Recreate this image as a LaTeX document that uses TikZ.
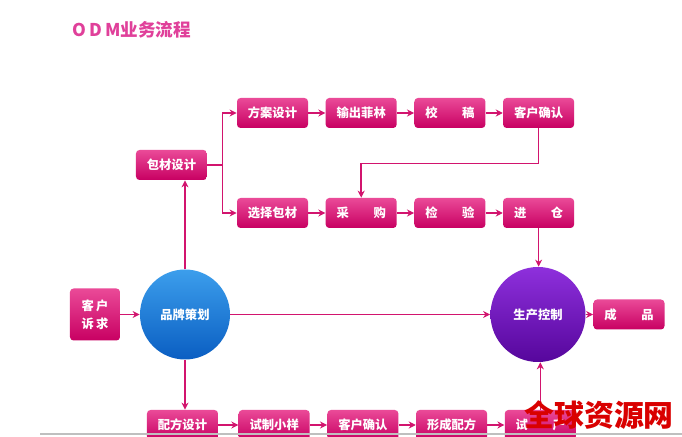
\documentclass[tikz,border=0pt]{standalone}
\usepackage{fontspec}
\setmainfont{Noto Sans CJK SC}
\usepackage{tikz}
\usetikzlibrary{positioning,arrows.meta,calc}
\definecolor{cpink}{HTML}{E0409A}
\definecolor{cline}{HTML}{D2146E}
\definecolor{boxtop}{HTML}{EA4A98}
\definecolor{boxbot}{HTML}{C80062}
\definecolor{bluetop}{HTML}{3C9EEC}
\definecolor{bluebot}{HTML}{0A5EC2}
\definecolor{purtop}{HTML}{8E30DC}
\definecolor{purbot}{HTML}{56069C}

\begin{document}
\begin{tikzpicture}[
  font=\fontsize{7}{8}\selectfont\bfseries,
  box/.style={rounded corners=2pt, top color=boxtop, bottom color=boxbot, text=white,
    minimum width=1.42cm, minimum height=0.6cm, inner sep=1pt},
  hub/.style={circle, text=white, inner sep=0pt},
  arr/.style={-{Stealth[length=4pt,width=4pt]}, cline, line width=0.8pt},
  ln/.style={cline, line width=0.8pt},
]
\useasboundingbox (0,0) rectangle (13.64,8.74);
\fill[white] (0,0) rectangle (13.64,8.74);

% ---------- title ----------
\node[font=\fontsize{10}{12}\selectfont\bfseries, text=cpink] (title) at (2.64,8.14) {O\,D\,M业务流程};

% ---------- hubs ----------
\node[box, minimum width=1.0cm, minimum height=1.04cm, align=center] (ksq) at (1.9,2.45) {客\,户\\[2pt]诉\,求};
\node[hub, minimum size=1.8cm, top color=bluetop, bottom color=bluebot] (ppch) at (3.7,2.45) {品牌策划};
\node[hub, minimum size=1.9cm, top color=purtop, bottom color=purbot] (sckz) at (10.76,2.45) {生产控制};
\node[box] (cp) at (12.58,2.45) {成\hspace{2em}品};

% ---------- 包材 ----------
\node[box] (bcsj) at (3.43,5.44) {包材设计};
\node[box] (fasj) at (5.45,6.48) {方案设计};
\node[box, right=0.34cm of fasj] (scfl) {输出菲林};
\node[box, right=0.34cm of scfl] (jg) {校\hspace{2em}稿};
\node[box, right=0.34cm of jg] (khqr1) {客户确认};
\node[box] (xzbc) at (5.45,4.48) {选择包材};
\node[box, right=0.34cm of xzbc] (cg) {采\hspace{2em}购};
\node[box, right=0.34cm of cg] (jy) {检\hspace{2em}验};
\node[box, right=0.34cm of jy] (jc) {进\hspace{2em}仓};

% ---------- 配方 ----------
\node[box] (pfsj) at (3.65,0.24) {配方设计};
\node[box, right=0.4cm of pfsj] (szxy) {试制小样};
\node[box, right=0.34cm of szxy] (khqr2) {客户确认};
\node[box, right=0.34cm of khqr2] (xcpf) {形成配方};
\node[box, right=0.34cm of xcpf] (sc) {试\hspace{2em}产};

% ---------- connectors ----------
\draw[arr] (ksq) -- (ppch);
\draw[arr] (ppch.north) -- (ppch.north |- bcsj.south);
\draw[arr] (ppch.south) -- (ppch.south |- pfsj.north);
\draw[arr] (ppch) -- (sckz);
\draw[arr] (sckz) -- (cp);
\draw[arr] (jc.south) -- (jc.south |- sckz.north);
\draw[arr] (sc.north) -- (sc.north |- sckz.south);
\draw[ln] (bcsj.east) -- ++(0.3,0) coordinate (br);
\draw[arr] (br) |- (fasj.west);
\draw[arr] (br) |- (xzbc.west);
\draw[arr] (fasj) -- (scfl);
\draw[arr] (scfl) -- (jg);
\draw[arr] (jg) -- (khqr1);
\draw[arr] (khqr1.south) -- ++(0,-0.7) -| (cg.north);
\draw[arr] (xzbc) -- (cg);
\draw[arr] (cg) -- (jy);
\draw[arr] (jy) -- (jc);
\draw[arr] (pfsj) -- (szxy);
\draw[arr] (szxy) -- (khqr2);
\draw[arr] (khqr2) -- (xcpf);
\draw[arr] (xcpf) -- (sc);

% ---------- footer ----------
\draw[black!25, line width=0.8pt] (0.8,0.06) -- (13.64,0.06);
\node[font=\fontsize{17}{20}\selectfont\bfseries, text=red!85!black, anchor=east] (wm) at (13.6,0.44) {全球资源网};
\end{tikzpicture}
\end{document}
